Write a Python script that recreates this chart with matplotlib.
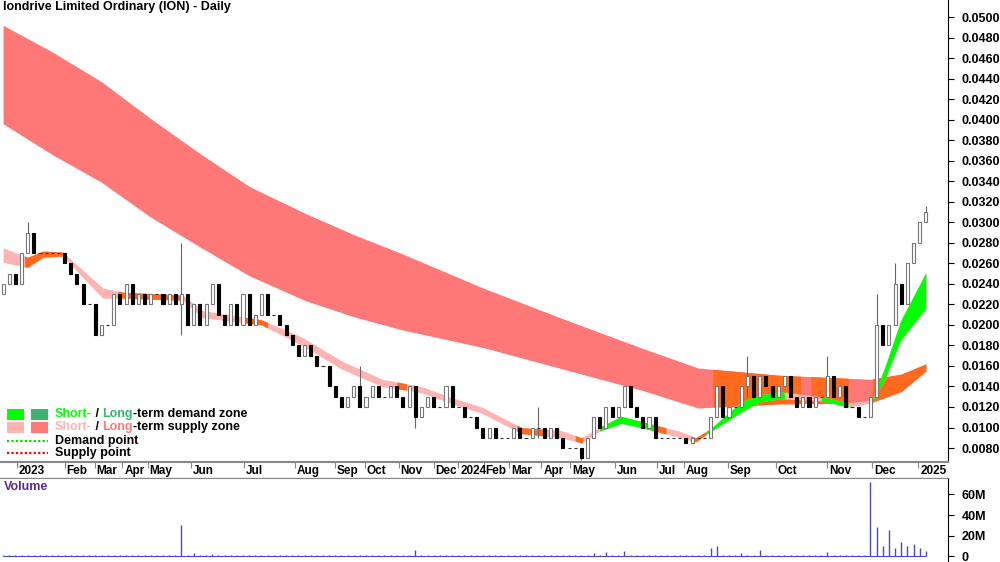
import numpy as np
import matplotlib.pyplot as plt
from matplotlib.patches import Rectangle

plt.rcParams.update({
    'font.family': ['Liberation Sans', 'DejaVu Sans'],
    'font.size': 8.5,
    'font.weight': 'bold',
})

# ── Data (x = bar number) ─────────────────────────────────────────────────
closes = [0.024, 0.025, 0.024, 0.027, 0.029, 0.027, 0.027, 0.027, 0.027, 0.027,
          0.026, 0.025, 0.024, 0.022, 0.022, 0.019, 0.020, 0.020, 0.023, 0.022,
          0.024, 0.022, 0.023, 0.022, 0.023, 0.023, 0.022, 0.023, 0.022, 0.023,
          0.020, 0.022, 0.020, 0.022, 0.024, 0.021, 0.020, 0.022, 0.020, 0.023,
          0.020, 0.021, 0.023, 0.021, 0.021, 0.020, 0.019, 0.018, 0.017, 0.018,
          0.017, 0.016, 0.016, 0.014, 0.013, 0.012, 0.013, 0.014, 0.012, 0.013,
          0.014, 0.013, 0.013, 0.014, 0.013, 0.012, 0.014, 0.011, 0.012, 0.013,
          0.012, 0.012, 0.014, 0.012, 0.012, 0.011, 0.011, 0.010, 0.009, 0.010,
          0.009, 0.009, 0.009, 0.010, 0.009, 0.009, 0.010, 0.010, 0.009, 0.010,
          0.009, 0.008, 0.008, 0.008, 0.007, 0.009, 0.011, 0.010, 0.012, 0.011,
          0.012, 0.014, 0.012, 0.011, 0.010, 0.011, 0.009, 0.009, 0.009, 0.009,
          0.009, 0.0085, 0.009, 0.009, 0.009, 0.011, 0.014, 0.011, 0.012, 0.012,
          0.014, 0.015, 0.013, 0.015, 0.014, 0.013, 0.014, 0.015, 0.013, 0.012,
          0.013, 0.012, 0.013, 0.013, 0.015, 0.013, 0.014, 0.012, 0.012, 0.011,
          0.011, 0.013, 0.020, 0.018, 0.020, 0.024, 0.022, 0.026, 0.028, 0.030,
          0.031]
first_open = 0.023
wick_idx = [4, 29, 58, 67, 87, 94, 116, 121, 134, 142, 145, 150]
wick_hi = [0.030, 0.028, 0.016, 0.012, 0.012, 0.008, 0.014, 0.017, 0.017, 0.023, 0.026, 0.0316]
wick_lo = [0.027, 0.019, 0.012, 0.010, 0.009, 0.0068, 0.011, 0.013, 0.013, 0.017, 0.020, 0.030]

volume_m = [1.0] * 151
vol_spikes = {29: 30, 31: 3, 34: 2, 67: 6, 96: 3, 98: 4, 101: 5, 115: 8, 116: 10,
              120: 3, 123: 6, 134: 4, 141: 72, 142: 28, 143: 10, 144: 26, 145: 8,
              146: 14, 147: 10, 148: 12, 149: 8, 150: 5}
for k, v in vol_spikes.items():
    volume_m[k] = v

# long-term supply zone
lt_x = [0, 8, 16, 24, 32, 40, 49, 57, 65, 78, 91, 104, 113, 126, 141, 146, 150]
lt_hi = [0.0492, 0.0466, 0.0437, 0.0401, 0.0367, 0.0335, 0.0309, 0.0288, 0.0269,
         0.0236, 0.0206, 0.0177, 0.0158, 0.0151, 0.0147, 0.0152, 0.0162]
lt_lo = [0.0396, 0.0366, 0.0339, 0.0305, 0.0276, 0.0248, 0.0224, 0.0208, 0.0195,
         0.0178, 0.0157, 0.0136, 0.0119, 0.0123, 0.0124, 0.0135, 0.0155]
lt_orange = [(115.4, 129.7), (131.3, 137.4), (141.3, 150)]

# short-term zone
st_x = [0, 4, 6.5, 9.7, 16.2, 19.4, 29.2, 32.4, 42, 48.6, 55, 61.6, 68, 73, 77.8,
        84.3, 90.8, 94, 97.2, 100.5, 103.7, 110.2, 112.6, 115, 120, 123, 126.4,
        133, 137.4, 141.3, 143.4, 145.9, 150]
st_hi = [0.0275, 0.0266, 0.0272, 0.0271, 0.0236, 0.0232, 0.0229, 0.0214, 0.0205,
         0.0188, 0.0165, 0.0147, 0.0140, 0.0129, 0.0120, 0.0100, 0.0097, 0.0090,
         0.0101, 0.0111, 0.0106, 0.0096, 0.0090, 0.0099, 0.0125, 0.0132, 0.0135,
         0.0130, 0.0124, 0.0127, 0.0160, 0.0204, 0.0251]
st_lo = [0.0261, 0.0256, 0.0266, 0.0267, 0.0226, 0.0226, 0.0224, 0.0207, 0.0200,
         0.0180, 0.0157, 0.0140, 0.0134, 0.0123, 0.0114, 0.0094, 0.0090, 0.0085,
         0.0097, 0.0104, 0.0100, 0.0090, 0.0086, 0.0096, 0.0115, 0.0125, 0.0128,
         0.0126, 0.0120, 0.0124, 0.0148, 0.0185, 0.0216]
st_green = [(97, 106), (114.3, 127), (133, 137.4), (141.3, 150)]
st_orange = [(3.5, 9.7), (18.6, 29.2), (39, 43), (64, 65.6), (83.5, 88.3),
             (93, 94.3), (105.3, 107.8), (111.8, 114.3)]

month_labels = ['2023', 'Feb', 'Mar', 'Apr', 'May', 'Jun', 'Jul', 'Aug', 'Sep', 'Oct',
                'Nov', 'Dec', '2024', 'Feb', 'Mar', 'Apr', 'May', 'Jun', 'Jul', 'Aug',
                'Sep', 'Oct', 'Nov', 'Dec', '2025']
month_pos = [2.3, 10, 14.9, 19.4, 23.5, 30.5, 39.2, 47.5, 54, 58.8, 64.3, 70, 74,
             78.1, 82.3, 87.5, 92.2, 99.5, 106.3, 110.7, 117.8, 125.6, 134, 141.3, 148.8]

C_LT = '#FF7878'
C_ST = '#FFB4B4'
C_OR = '#FF6A1E'
C_GR = '#00FF00'
C_LTG = '#3CB371'
XMAX = 153.6
FS = 9

fig = plt.figure(figsize=(10, 5.62), dpi=100)
ax = fig.add_axes([0, 1 - 462 / 562, 0.948, 462 / 562])
axd = fig.add_axes([0, 1 - 478 / 562, 0.948, 16 / 562])
axv = fig.add_axes([0, 0, 0.948, 84 / 562])

# ── Zones ──────────────────────────────────────────────────────────────────
xs = np.linspace(0, 150, 3001)
lth, ltl = np.interp(xs, lt_x, lt_hi), np.interp(xs, lt_x, lt_lo)
ax.fill_between(xs, ltl, lth, color=C_LT, lw=0, zorder=1)
for a, b in lt_orange:
    m = (xs >= a) & (xs <= b)
    ax.fill_between(xs[m], ltl[m], lth[m], color=C_OR, lw=0, zorder=1.1)

sth, stl = np.interp(xs, st_x, st_hi), np.interp(xs, st_x, st_lo)
ax.fill_between(xs, stl, sth, color=C_ST, lw=0, zorder=2)
for segs, col in [(st_orange, C_OR), (st_green, C_GR)]:
    for a, b in segs:
        m = (xs >= a) & (xs <= b)
        ax.fill_between(xs[m], stl[m], sth[m], color=col, lw=0, zorder=2.1)

# ── Open/close bars ────────────────────────────────────────────────────────
opens = [first_open] + closes[:-1]
highs = [max(o, c) for o, c in zip(opens, closes)]
lows = [min(o, c) for o, c in zip(opens, closes)]
for k, h, l in zip(wick_idx, wick_hi, wick_lo):
    highs[k], lows[k] = h, l
w = 0.5
for i, (o, c, h, l) in enumerate(zip(opens, closes, highs, lows)):
    if h > max(o, c) or l < min(o, c):
        ax.vlines(i, l, h, color='#666666', lw=0.8, zorder=3)
    if abs(c - o) < 1e-9:
        ax.hlines(c, i - w / 2, i + w / 2, color='#333333', lw=0.8, zorder=4)
    elif c > o:
        ax.add_patch(Rectangle((i - w / 2, o), w, c - o, fc='white', ec='#777777',
                               lw=0.8, zorder=4))
    else:
        ax.add_patch(Rectangle((i - w / 2, c), w, o - c, fc='black', ec='black',
                               lw=0.8, zorder=4))

ax.set_xlim(-0.5, XMAX)
ax.set_ylim(0.00664, 0.05166)
ax.yaxis.tick_right()
ax.set_yticks(np.arange(0.008, 0.0501, 0.002))
ax.yaxis.set_major_formatter(plt.FuncFormatter(lambda v, p: f'{v:.4f}'))
ax.tick_params(axis='y', length=4, pad=6, labelsize=FS)
ax.set_xticks([])
for s in ['top', 'left', 'bottom']:
    ax.spines[s].set_visible(False)
ax.text(0.003, 0.997, 'Iondrive Limited Ordinary (ION) - Daily', transform=ax.transAxes,
        ha='left', va='top', fontsize=FS)

# legend
px = lambda x, y: (x / 1000, 1 - y / 562)
for x0, col in [(7, C_GR), (31, C_LTG)]:
    fig.patches.append(Rectangle(px(x0, 420), 17 / 1000, 11 / 562, fc=col, ec='none',
                                 transform=fig.transFigure, zorder=10))
for x0, col in [(7, C_ST), (31, C_LT)]:
    fig.patches.append(Rectangle(px(x0, 433), 17 / 1000, 11 / 562, fc=col, ec='none',
                                 transform=fig.transFigure, zorder=10))
for yy, col in [(441, '#00DD00'), (453, '#FF0000')]:
    fig.lines.append(plt.Line2D([7 / 1000, 48 / 1000], [1 - yy / 562] * 2, color=col,
                                lw=1.6, ls=(0, (1, 1)), transform=fig.transFigure))

renderer = fig.canvas.get_renderer()


def multi_text(x0, y0, pieces):
    x = x0 / 1000
    for s, col in pieces:
        t = fig.text(x, 1 - y0 / 562, s, color=col, ha='left', va='center', fontsize=FS)
        bb = t.get_window_extent(renderer)
        x = bb.x1 / fig.bbox.width


multi_text(55, 414, [('Short-', C_GR), (' / ', 'black'), ('Long', C_LTG),
                     ('-term demand zone', 'black')])
multi_text(55, 427, [('Short-', C_ST), (' / ', 'black'), ('Long', C_LT),
                     ('-term supply zone', 'black')])
multi_text(55, 441, [('Demand point', 'black')])
multi_text(55, 453, [('Supply point', 'black')])

# ── Date strip ─────────────────────────────────────────────────────────────
axd.set_xlim(-0.5, XMAX)
axd.set_ylim(0, 1)
axd.set_xticks([])
axd.set_yticks([])
for s in ['left', 'right']:
    axd.spines[s].set_visible(False)
axd.spines['top'].set_color('#888888')
axd.spines['top'].set_linewidth(1.5)
for lab, p in zip(month_labels, month_pos):
    axd.vlines(p, 0.6, 1, color='#888888', lw=0.8)
    axd.text(p + 0.3, 0.42, lab, ha='left', va='center', fontsize=8.5)

# ── Volume ─────────────────────────────────────────────────────────────────
axv.vlines(range(len(volume_m)), 0, volume_m, color='#4848C8', lw=1)
axv.hlines(0, 0, 150, color='#4848C8', lw=0.8)
axv.set_xlim(-0.5, XMAX)
axv.set_ylim(-5.5, 76)
axv.yaxis.tick_right()
axv.set_yticks([0, 20, 40, 60])
axv.set_yticklabels(['0', '20M', '40M', '60M'])
axv.tick_params(axis='y', length=4, pad=6, labelsize=FS)
axv.set_xticks([])
for s in ['left', 'bottom']:
    axv.spines[s].set_visible(False)
axv.spines['top'].set_color('#888888')
axv.text(0.004, 0.96, 'Volume', transform=axv.transAxes, ha='left', va='top',
         color='#5B2C8F', fontsize=FS)

fig.savefig('out.png', dpi=100)
